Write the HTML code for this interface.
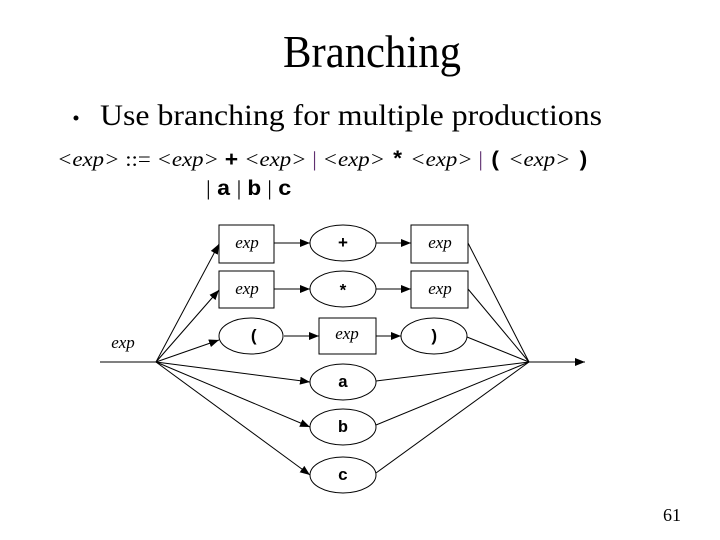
<!DOCTYPE html>
<html><head><meta charset="utf-8"><style>html,body{margin:0;padding:0;background:#fff}svg{display:block}</style></head><body>
<svg width="720" height="540" viewBox="0 0 720 540" xmlns="http://www.w3.org/2000/svg">
<defs><marker id="a" markerWidth="10" markerHeight="8" refX="10" refY="4" orient="auto" markerUnits="userSpaceOnUse"><path d="M0,0 L10,4 L0,8 z" fill="#000"/></marker></defs>
<g font-family="Liberation Serif, serif" fill="#000">
<text x="283" y="67" font-size="46" textLength="178" lengthAdjust="spacingAndGlyphs">Branching</text>
<circle cx="76" cy="118" r="2.5"/>
<text x="100" y="125" font-size="30" textLength="502" lengthAdjust="spacingAndGlyphs">Use branching for multiple productions</text>
<g font-size="21">
<text x="57" y="166" textLength="533" lengthAdjust="spacingAndGlyphs"><tspan font-style="italic">&lt;exp&gt;</tspan> ::= <tspan font-style="italic">&lt;exp&gt;</tspan> <tspan font-family="Liberation Mono, monospace" font-weight="bold">+</tspan> <tspan font-style="italic">&lt;exp&gt;</tspan> <tspan fill="#603070">|</tspan> <tspan font-style="italic">&lt;exp&gt;</tspan> <tspan font-family="Liberation Mono, monospace" font-weight="bold">*</tspan> <tspan font-style="italic">&lt;exp&gt;</tspan> <tspan fill="#603070">|</tspan> <tspan font-family="Liberation Mono, monospace" font-weight="bold">(</tspan> <tspan font-style="italic">&lt;exp&gt;</tspan> <tspan font-family="Liberation Mono, monospace" font-weight="bold">)</tspan></text>
<text x="206" y="195" textLength="86" lengthAdjust="spacingAndGlyphs">| <tspan font-family="Liberation Mono, monospace" font-weight="bold">a</tspan> | <tspan font-family="Liberation Mono, monospace" font-weight="bold">b</tspan> | <tspan font-family="Liberation Mono, monospace" font-weight="bold">c</tspan></text>
</g>
<text x="663" y="521" font-size="18">61</text>
</g>
<g stroke="#000" stroke-width="1" fill="none">
<line x1="100" y1="362" x2="156" y2="362"/>
<line x1="529" y1="362" x2="585" y2="362" marker-end="url(#a)"/>
<line x1="156" y1="362" x2="219" y2="244" marker-end="url(#a)"/>
<line x1="156" y1="362" x2="219" y2="290" marker-end="url(#a)"/>
<line x1="156" y1="362" x2="219" y2="340" marker-end="url(#a)"/>
<line x1="156" y1="362" x2="310" y2="382" marker-end="url(#a)"/>
<line x1="156" y1="362" x2="310" y2="427" marker-end="url(#a)"/>
<line x1="156" y1="362" x2="310" y2="475" marker-end="url(#a)"/>
<line x1="468" y1="243" x2="529" y2="362"/>
<line x1="468" y1="289" x2="529" y2="362"/>
<line x1="467" y1="337" x2="529" y2="362"/>
<line x1="376" y1="381" x2="529" y2="362"/>
<line x1="376" y1="425" x2="529" y2="362"/>
<line x1="376" y1="473" x2="529" y2="362"/>
<line x1="274" y1="243" x2="310" y2="243" marker-end="url(#a)"/>
<line x1="376" y1="243" x2="411" y2="243" marker-end="url(#a)"/>
<line x1="274" y1="289" x2="310" y2="289" marker-end="url(#a)"/>
<line x1="376" y1="289" x2="411" y2="289" marker-end="url(#a)"/>
<line x1="284" y1="336" x2="319" y2="336" marker-end="url(#a)"/>
<line x1="376" y1="336" x2="401" y2="336" marker-end="url(#a)"/>
<rect x="219" y="225" width="55" height="38"/>
<rect x="411" y="225" width="57" height="38"/>
<rect x="219" y="271" width="55" height="37"/>
<rect x="411" y="271" width="57" height="37"/>
<rect x="319" y="318" width="57" height="36"/>
<ellipse cx="343" cy="243" rx="33" ry="18"/>
<ellipse cx="343" cy="289" rx="33" ry="18"/>
<ellipse cx="251" cy="336" rx="32" ry="18"/>
<ellipse cx="434" cy="336" rx="33" ry="18"/>
<ellipse cx="343" cy="382" rx="33" ry="18"/>
<ellipse cx="343" cy="427" rx="33" ry="18"/>
<ellipse cx="343" cy="475" rx="33" ry="18"/>
</g>
<g font-family="Liberation Serif, serif" font-style="italic" font-size="17" text-anchor="middle">
<text x="123" y="348">exp</text>
<text x="247" y="248">exp</text><text x="440" y="248">exp</text>
<text x="247" y="294">exp</text><text x="440" y="294">exp</text>
<text x="347" y="339">exp</text>
</g>
<g font-family="Liberation Mono, monospace" font-weight="bold" font-size="17" text-anchor="middle">
<text x="343" y="248">+</text><text x="343" y="296">*</text>
<text x="254" y="341">(</text><text x="434" y="341">)</text>
<text x="343" y="387">a</text><text x="343" y="432">b</text><text x="343" y="480">c</text>
</g>
</svg>
</body></html>
